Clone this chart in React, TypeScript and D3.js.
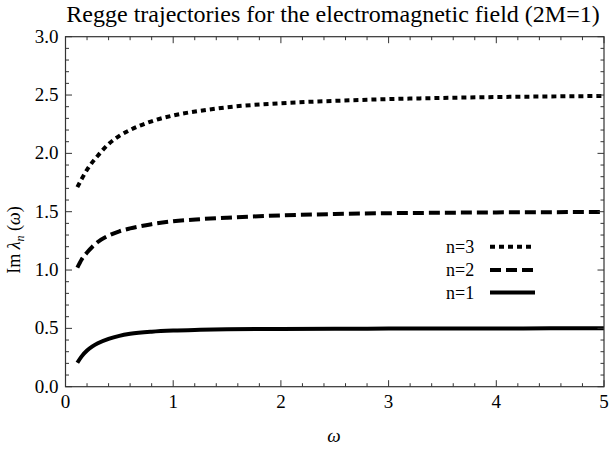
import React from "react";
import * as d3 from "d3";

const omega = [0.11, 0.15, 0.2, 0.25, 0.3, 0.4, 0.5, 0.6, 0.8, 1.0, 1.25, 1.5, 2.0, 2.5, 3.0, 3.5, 4.0, 4.5, 5.0];
const n1 = [0.205, 0.26, 0.31, 0.345, 0.372, 0.41, 0.436, 0.453, 0.472, 0.482, 0.488, 0.492, 0.495, 0.497, 0.498, 0.499, 0.499, 0.5, 0.5];
const n2 = [1.02, 1.09, 1.15, 1.2, 1.24, 1.295, 1.332, 1.357, 1.393, 1.418, 1.436, 1.449, 1.468, 1.48, 1.487, 1.491, 1.494, 1.496, 1.498];
const n3 = [1.71, 1.78, 1.86, 1.925, 1.98, 2.08, 2.15, 2.2, 2.275, 2.325, 2.365, 2.395, 2.43, 2.45, 2.465, 2.475, 2.483, 2.488, 2.492];

const xMajor = [0, 1, 2, 3, 4, 5];
const yMajor = [0, 0.5, 1, 1.5, 2, 2.5, 3];
const yLabels = ["0.0", "0.5", "1.0", "1.5", "2.0", "2.5", "3.0"];
const seriesNames = ["n=3", "n=2", "n=1"];

const title = "Regge trajectories for the electromagnetic field (2M=1)";

export default function App() {
  const W = 609, H = 457;
  const left = 65.5, right = 604, top = 36.7, bottom = 386.7;
  const x = d3.scaleLinear().domain([0, 5]).range([left, right]);
  const y = d3.scaleLinear().domain([0, 3]).range([bottom, top]);

  const xMinor = d3.range(0, 5.0001, 0.2).filter((v) => Math.abs(v - Math.round(v)) > 1e-6);
  const yMinor = d3.range(0, 3.0001, 0.1).filter((v) => Math.abs(v * 2 - Math.round(v * 2)) > 1e-6);

  const line = d3
    .line<number>()
    .x((_, i) => x(omega[i]))
    .y((d) => y(d))
    .curve(d3.curveMonotoneX);

  const series = [
    { name: seriesNames[0], data: n3, dash: "5,4" },
    { name: seriesNames[1], data: n2, dash: "11,5" },
    { name: seriesNames[2], data: n1, dash: "none" },
  ];

  const axisColor = "#333";
  const font = "'Liberation Serif', 'Times New Roman', serif";
  const majLen = 6.5, minLen = 3.5;

  const legendY = [246.7, 270, 292.5];

  return (
    <svg width={W} height={H} style={{ position: "absolute", left: 0, top: 0 }} fontFamily={font}>
      <rect width={W} height={H} fill="white" />
      <text x={333} y={22} fontSize={24} textAnchor="middle" fill="#000">{title}</text>

      {series.map((s) => (
        <path key={s.name} d={line(s.data) || ""} fill="none" stroke="#000" strokeWidth={4}
          strokeDasharray={s.dash} />
      ))}

      <rect x={left} y={top} width={right - left} height={bottom - top} fill="none" stroke={axisColor} strokeWidth={1.2} />
      {xMajor.map((v) => (
        <g key={"xm" + v}>
          <line x1={x(v)} x2={x(v)} y1={bottom} y2={bottom - majLen} stroke={axisColor} />
          <line x1={x(v)} x2={x(v)} y1={top} y2={top + majLen} stroke={axisColor} />
          <text x={x(v)} y={bottom + 21} fontSize={19} textAnchor="middle">{String(v)}</text>
        </g>
      ))}
      {xMinor.map((v, i) => (
        <g key={"xn" + i}>
          <line x1={x(v)} x2={x(v)} y1={bottom} y2={bottom - minLen} stroke={axisColor} />
          <line x1={x(v)} x2={x(v)} y1={top} y2={top + minLen} stroke={axisColor} />
        </g>
      ))}
      {yMajor.map((v, i) => (
        <g key={"ym" + v}>
          <line x1={left} x2={left + majLen} y1={y(v)} y2={y(v)} stroke={axisColor} />
          <line x1={right} x2={right - majLen} y1={y(v)} y2={y(v)} stroke={axisColor} />
          <text x={left - 7} y={y(v) + 6} fontSize={19} textAnchor="end">{yLabels[i]}</text>
        </g>
      ))}
      {yMinor.map((v, i) => (
        <g key={"yn" + i}>
          <line x1={left} x2={left + minLen} y1={y(v)} y2={y(v)} stroke={axisColor} />
          <line x1={right} x2={right - minLen} y1={y(v)} y2={y(v)} stroke={axisColor} />
        </g>
      ))}

      <text x={334} y={442} fontSize={19} fontStyle="italic" textAnchor="middle">ω</text>
      <text transform="translate(20,240) rotate(-90)" fontSize={18} textAnchor="middle">
        Im <tspan fontStyle="italic">λ</tspan><tspan fontStyle="italic" fontSize={12} dy={4}>n</tspan>
        <tspan dy={-4}> (</tspan><tspan fontStyle="italic">ω</tspan>)
      </text>

      {series.map((s, i) => (
        <g key={"lg" + s.name}>
          <text x={446} y={legendY[i] + 6} fontSize={18}>{s.name}</text>
          <line x1={490} x2={535} y1={legendY[i]} y2={legendY[i]} stroke="#000" strokeWidth={4}
            strokeDasharray={s.dash} />
        </g>
      ))}
    </svg>
  );
}
